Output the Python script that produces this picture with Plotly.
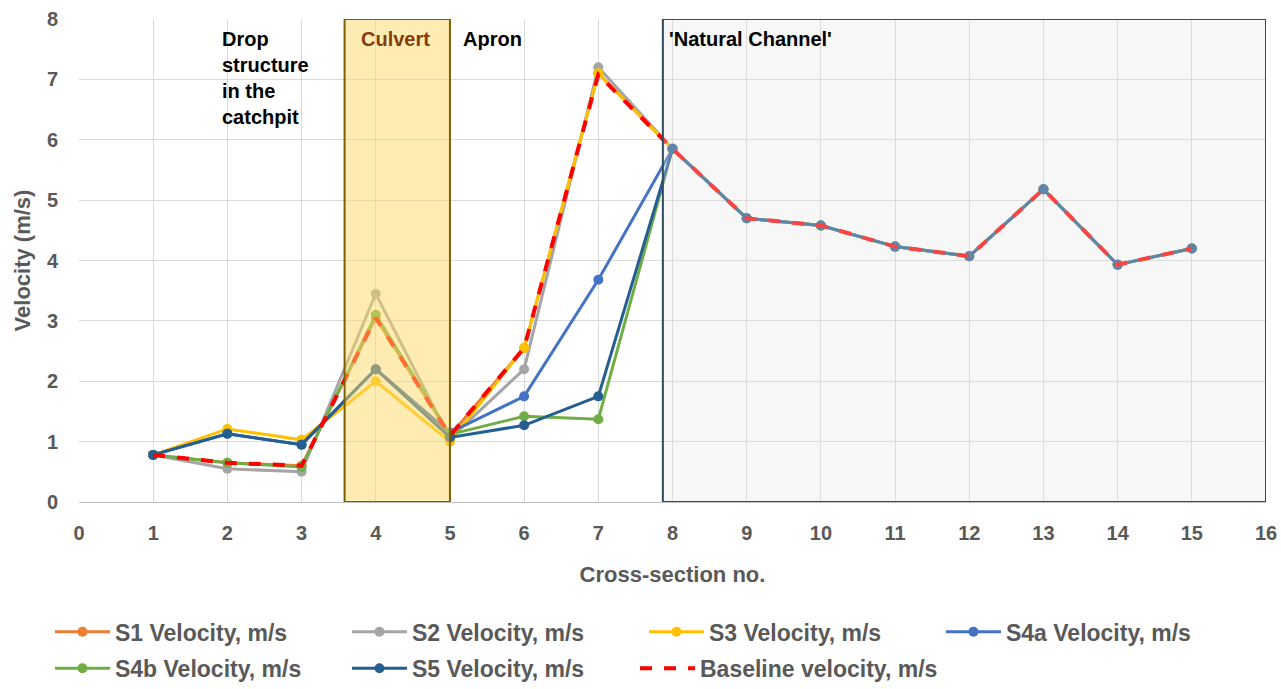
import plotly.graph_objects as go

sections = list(range(1, 16))
s1 = [0.78, 0.65, 0.60, 3.05, 1.10, 2.55, 7.10, 5.85, 4.70, 4.58, 4.23, 4.07, 5.18, 3.93, 4.20]
s2 = [0.78, 0.55, 0.50, 3.45, 1.05, 2.20, 7.20, 5.85, 4.70, 4.58, 4.23, 4.07, 5.18, 3.93, 4.20]
s3 = [0.78, 1.21, 1.03, 2.00, 1.00, 2.55, 7.10, 5.85, 4.70, 4.58, 4.23, 4.07, 5.18, 3.93, 4.20]
s4a = [0.78, 1.13, 0.95, 2.20, 1.15, 1.75, 3.68, 5.85, 4.70, 4.58, 4.23, 4.07, 5.18, 3.93, 4.20]
s4b = [0.78, 0.65, 0.58, 3.10, 1.12, 1.42, 1.37, 5.85, 4.70, 4.58, 4.23, 4.07, 5.18, 3.93, 4.20]
s5 = [0.78, 1.13, 0.95, 2.20, 1.07, 1.27, 1.75, 5.85, 4.70, 4.58, 4.23, 4.07, 5.18, 3.93, 4.20]
baseline = [0.78, 0.65, 0.60, 3.05, 1.10, 2.55, 7.08, 5.85, 4.70, 4.58, 4.23, 4.07, 5.18, 3.93, 4.20]

series = [
    ("S1 Velocity, m/s", s1, "#ED7D31", "legend"),
    ("S2 Velocity, m/s", s2, "#A5A5A5", "legend"),
    ("S3 Velocity, m/s", s3, "#FFC000", "legend"),
    ("S4a Velocity, m/s", s4a, "#4472C4", "legend"),
    ("S4b Velocity, m/s", s4b, "#70AD47", "legend2"),
    ("S5 Velocity, m/s", s5, "#255E91", "legend2"),
]

fig = go.Figure()
for name, vals, col, lg in series:
    fig.add_trace(go.Scatter(x=sections, y=vals, name=name, mode="lines+markers", legend=lg,
                             line=dict(color=col, width=3), marker=dict(color=col, size=10)))
fig.add_trace(go.Scatter(x=sections, y=baseline, name="Baseline velocity, m/s", mode="lines",
                         legend="legend3", line=dict(color="#FF0000", width=4, dash="dash")))

fig.add_shape(type="rect", xref="x", yref="y", x0=3.58, x1=5.0, y0=0, y1=8,
              fillcolor="rgba(255,217,102,0.5)", line=dict(color="#7F6000", width=2), layer="above")
fig.add_shape(type="rect", xref="x", yref="y", x0=7.87, x1=16, y0=0, y1=8,
              fillcolor="rgba(230,230,230,0.3)", line=dict(color="#2F4B5F", width=2), layer="above")

font_txt = "Liberation Sans"
fig.add_annotation(x=1.9, y=7.88, xref="x", yref="y", xanchor="left", yanchor="top", showarrow=False,
                   align="left", text="<b>Drop<br>structure<br>in the<br>catchpit</b>",
                   font=dict(family=font_txt, size=20, color="#000000"))
fig.add_annotation(x=3.77, y=7.88, xref="x", yref="y", xanchor="left", yanchor="top", showarrow=False,
                   text="<b>Culvert</b>", font=dict(family=font_txt, size=20, color="#843C0C"))
fig.add_annotation(x=5.15, y=7.88, xref="x", yref="y", xanchor="left", yanchor="top", showarrow=False,
                   text="<b>Apron</b>", font=dict(family=font_txt, size=20, color="#000000"))
fig.add_annotation(x=7.93, y=7.88, xref="x", yref="y", xanchor="left", yanchor="top", showarrow=False,
                   text="<b>'Natural Channel'</b>", font=dict(family=font_txt, size=20, color="#000000"))

legend_common = dict(orientation="h", xref="container", yref="container", xanchor="left", yanchor="middle",
                     itemwidth=55, bgcolor="rgba(0,0,0,0)",
                     font=dict(size=23, weight="bold", color="#595959"))

fig.update_layout(
    width=1281, height=689,
    margin=dict(l=79, r=15, t=19, b=187, autoexpand=False),
    paper_bgcolor="white", plot_bgcolor="white",
    font=dict(family=font_txt, color="#595959", size=20),
    showlegend=True,
    xaxis=dict(range=[0, 16], dtick=1, tick0=0, showgrid=True, gridcolor="#D9D9D9", gridwidth=1,
               showline=True, linecolor="#BFBFBF", zeroline=False, ticks="", automargin=False,
               ticklabelstandoff=13,
               tickfont=dict(size=20, weight="bold", color="#595959"),
               title=dict(text="<b>Cross-section no.</b>", font=dict(size=22, color="#595959"), standoff=23)),
    yaxis=dict(range=[0, 8], dtick=1, showgrid=True, gridcolor="#D9D9D9", gridwidth=1,
               zeroline=False, ticks="", showline=False, automargin=False,
               ticklabelstandoff=20,
               tickfont=dict(size=20, weight="bold", color="#595959"),
               title=dict(text="<b>Velocity (m/s)</b>", font=dict(size=22, color="#595959"), standoff=10)),
    legend=dict(**legend_common, x=0.039, y=0.083, entrywidth=227, entrywidthmode="pixels"),
    legend2=dict(**legend_common, x=0.039, y=0.03, entrywidth=227, entrywidthmode="pixels"),
    legend3=dict(**legend_common, x=0.4957, y=0.03),
)

fig.write_html("out.html", config={"displayModeBar": False},
               post_script="document.body.style.margin='0';")
